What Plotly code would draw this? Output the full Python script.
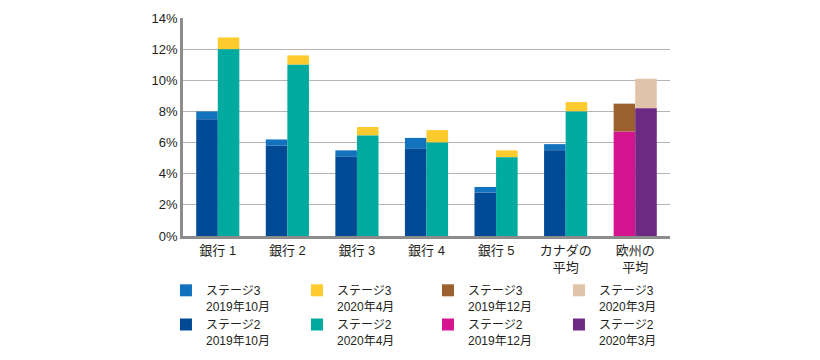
import plotly.graph_objects as go

categories = ["銀行 1", "銀行 2", "銀行 3", "銀行 4", "銀行 5", "カナダの<br>平均", "欧州の<br>平均"]
bank_cats = categories[:6]
eu_cats = categories[6:]

stage2_oct2019 = [7.5, 5.8, 5.1, 5.6, 2.8, 5.5]
stage3_oct2019 = [0.5, 0.4, 0.4, 0.7, 0.35, 0.4]
stage2_apr2020 = [12.0, 11.0, 6.45, 6.0, 5.05, 8.0]
stage3_apr2020 = [0.75, 0.6, 0.55, 0.8, 0.45, 0.6]
stage2_dec2019 = [6.7]
stage3_dec2019 = [1.8]
stage2_mar2020 = [8.2]
stage3_mar2020 = [1.9]

y_ticks = [0, 2, 4, 6, 8, 10, 12, 14]
y_ticktext = [f"{v}%" for v in y_ticks]

FONT = "Liberation Sans, Noto Sans CJK JP, sans-serif"
TXT = "#231f20"

fig = go.Figure()
# legend order (row-wise): stage3 series first, then stage2 series
series = [
    ("ステージ3<br>2019年10月", bank_cats, stage3_oct2019, stage2_oct2019, "L", "#1272bd", 1),
    ("ステージ3<br>2020年4月", bank_cats, stage3_apr2020, stage2_apr2020, "R", "#fdcb2e", 2),
    ("ステージ3<br>2019年12月", eu_cats, stage3_dec2019, stage2_dec2019, "L", "#9b602d", 3),
    ("ステージ3<br>2020年3月", eu_cats, stage3_mar2020, stage2_mar2020, "R", "#e0c4aa", 4),
    ("ステージ2<br>2019年10月", bank_cats, stage2_oct2019, None, "L", "#004a96", 5),
    ("ステージ2<br>2020年4月", bank_cats, stage2_apr2020, None, "R", "#00aa9f", 6),
    ("ステージ2<br>2019年12月", eu_cats, stage2_dec2019, None, "L", "#d5148f", 7),
    ("ステージ2<br>2020年3月", eu_cats, stage2_mar2020, None, "R", "#6c2a83", 8),
]
for name, xs, ys, base, grp, color, rank in series:
    kw = {}
    if base is not None:
        kw["base"] = list(base)
    fig.add_trace(go.Bar(
        name=name, x=xs, y=ys, offsetgroup=grp, legendrank=rank,
        marker=dict(color=color, line=dict(width=0)), **kw))

fig.update_layout(
    width=812, height=352,
    margin=dict(l=175, r=150, t=10, b=124, autoexpand=False),
    barmode="group", bargap=0.38, bargroupgap=0,
    plot_bgcolor="white", paper_bgcolor="white",
    font=dict(family=FONT, size=13, color=TXT),
    showlegend=True,
    legend=dict(
        orientation="h",
        x=1.041, xanchor="right", y=-0.1835, yanchor="top",
        entrywidth=86, entrywidthmode="pixels", valign="top",
        traceorder="normal", font=dict(family=FONT, size=12, color=TXT),
        itemclick=False, tracegroupgap=0,
    ),
    xaxis=dict(
        categoryorder="array", categoryarray=categories,
        showline=True, linecolor="#8c8c8c", linewidth=2.5,
        ticks="", ticklabelstandoff=1,
        tickfont=dict(family=FONT, size=13, color=TXT),
        range=[-0.5, 6.5], fixedrange=True,
    ),
    yaxis=dict(
        range=[0, 14], tickvals=y_ticks, ticktext=y_ticktext,
        showline=True, linecolor="#8c8c8c", linewidth=2.5,
        showgrid=True, gridcolor="#b4b4b4", gridwidth=1.3,
        ticks="", tickfont=dict(family=FONT, size=13, color=TXT),
        zeroline=False, fixedrange=True,
    ),
)

fig.write_html("out.html")
